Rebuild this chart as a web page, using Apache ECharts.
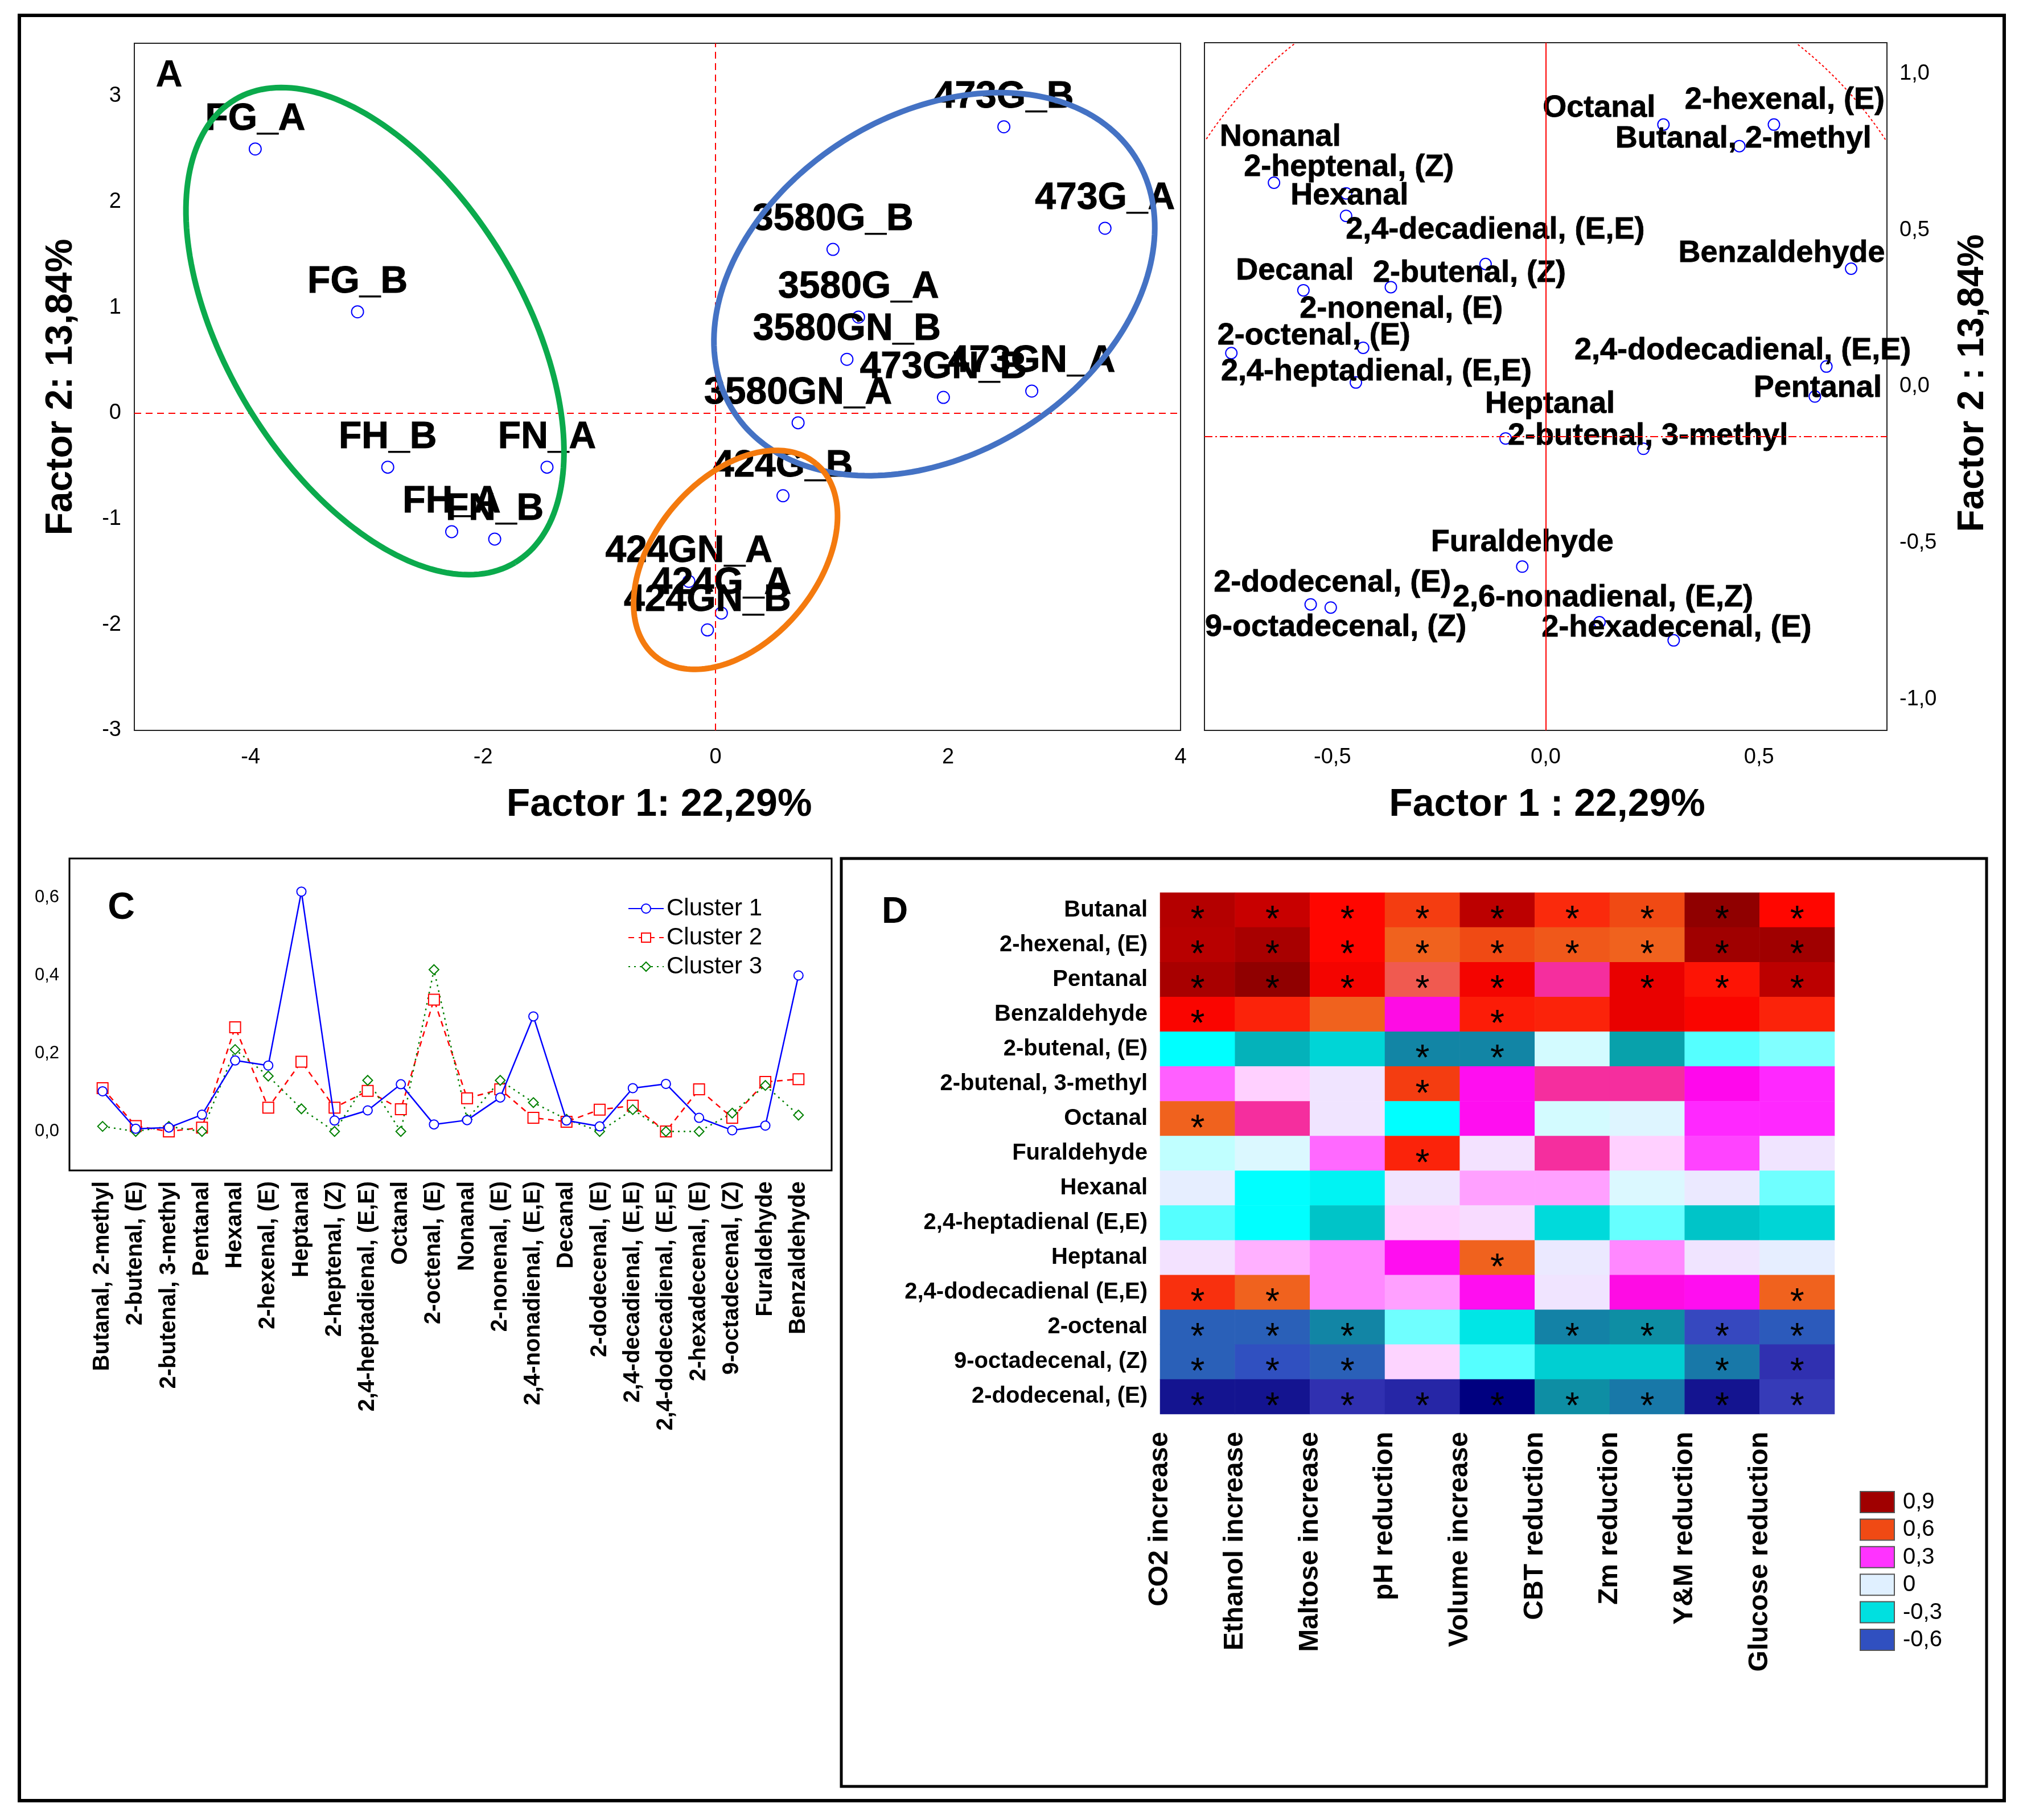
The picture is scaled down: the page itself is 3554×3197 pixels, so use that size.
<!DOCTYPE html>
<html>
<head>
<meta charset="utf-8">
<script src="https://cdn.jsdelivr.net/npm/echarts@6/dist/echarts.min.js"></script>
<style>
html,body{margin:0;padding:0;background:#fff;}
#chart{width:3554px;height:3197px;}
</style>
</head>
<body>
<div id="chart"></div>
<script>
// ---------------- Panel A: PCA scores ----------------
const samplesA = ['FG_A','FG_B','FH_B','FN_A','FH_A','FN_B','473G_B','473G_A','3580G_B','3580G_A','3580GN_B','473GN_B','473GN_A','3580GN_A','424G_B','424GN_A','424G_A','424GN_B'];
const factor1A = [-3.96,-3.08,-2.82,-1.45,-2.27,-1.90,2.48,3.35,1.01,1.23,1.13,1.96,2.72,0.71,0.58,-0.23,0.05,-0.07];
const factor2A = [2.50,0.96,-0.51,-0.51,-1.12,-1.19,2.71,1.75,1.55,0.91,0.51,0.15,0.21,-0.09,-0.78,-1.59,-1.89,-2.05];

// group ellipses (centre, two conjugate semi-axes in data units)
const ellipseCentres = [[-2.93,0.777],[1.882,1.221],[0.172,-1.387]];
const ellipseAxisU = [[1.204,-2.190],[1.722,1.213],[0.689,0.913]];
const ellipseAxisV = [[-1.093,-0.717],[0.794,-1.346],[0.543,-0.489]];
const ellipseColors = ['#0BAA4C','#4472C4','#F47A0E'];

// ---------------- Panel B: PCA loadings ----------------
const aldehydesB = ['Octanal','2-hexenal, (E)','Butanal, 2-methyl','Nonanal','2-heptenal, (Z)','Hexanal','2,4-decadienal, (E,E)','Decanal','2-butenal, (Z)','2-nonenal, (E)','2-octenal, (E)','2,4-heptadienal, (E,E)','Benzaldehyde','2,4-dodecadienal, (E,E)','Pentanal','Heptanal','2-butenal, 3-methyl','Furaldehyde','2-dodecenal, (E)','9-octadecenal, (Z)','2,6-nonadienal, (E,Z)','2-hexadecenal, (E)'];
const loading1B = [0.276,0.535,0.454,-0.637,-0.468,-0.468,-0.141,-0.568,-0.363,-0.428,-0.737,-0.445,0.716,0.658,0.631,-0.094,0.229,-0.055,-0.504,-0.551,0.126,0.300];
const loading2B = [0.838,0.838,0.769,0.652,0.618,0.546,0.392,0.308,0.318,0.124,0.107,0.013,0.377,0.064,-0.032,-0.166,-0.199,-0.576,-0.707,-0.697,-0.754,-0.812];
// label placement (pixels) for each loading label
const labelShiftB = [[-113,-29],[19,-43],[7,-13],[11,-80],[5,-46],[6,-35],[17,-60],[-15,-34],[138,-24],[67,-68],[145,-30],[36,-19],[-122,-27],[-147,-28],[5,-14],[78,-60],[8,-22],[0,-42],[3,-43],[44,40],[6,-43],[5,-22]];

// ---------------- Panel C: cluster profiles ----------------
const clusterCats = ['Butanal, 2-methyl','2-butenal, (E)','2-butenal, 3-methyl','Pentanal','Hexanal','2-hexenal, (E)','Heptanal','2-heptenal, (Z)','2,4-heptadienal, (E,E)','Octanal','2-octenal, (E)','Nonanal','2-nonenal, (E)','2,4-nonadienal, (E,E)','Decanal','2-dodecenal, (E)','2,4-decadienal, (E,E)','2,4-dodecadienal, (E,E)','2-hexadecenal, (E)','9-octadecenal, (Z)','Furaldehyde','Benzaldehyde'];
const cluster1 = [0.103,0.007,0.010,0.043,0.182,0.169,0.615,0.028,0.054,0.121,0.018,0.029,0.087,0.295,0.028,0.013,0.111,0.122,0.035,0.003,0.015,0.400];
const cluster2 = [0.111,0.014,0.000,0.010,0.267,0.061,0.179,0.061,0.104,0.057,0.338,0.085,0.108,0.035,0.025,0.056,0.066,0.000,0.108,0.035,0.127,0.134];
const cluster3 = [0.013,0.000,0.013,0.000,0.210,0.142,0.058,0.000,0.131,0.000,0.415,0.031,0.131,0.074,0.031,0.000,0.056,0.000,0.000,0.047,0.118,0.042];
const clusterNames = ['Cluster 1','Cluster 2','Cluster 3'];

// ---------------- Panel D: correlation heatmap ----------------
const heatRows = ['Butanal','2-hexenal, (E)','Pentanal','Benzaldehyde','2-butenal, (E)','2-butenal, 3-methyl','Octanal','Furaldehyde','Hexanal','2,4-heptadienal (E,E)','Heptanal','2,4-dodecadienal (E,E)','2-octenal','9-octadecenal, (Z)','2-dodecenal, (E)'];
const heatCols = ['CO2 increase','Ethanol increase','Maltose increase','pH reduction','Volume increase','CBT reduction','Zm reduction','Y&M reduction','Glucose reduction'];
const corrButanal       = [0.85,0.80,0.70,0.62,0.83,0.65,0.60,0.94,0.70];
const corrHexenal       = [0.84,0.88,0.70,0.55,0.60,0.57,0.55,0.90,0.90];
const corrPentanal      = [0.88,0.94,0.72,0.50,0.72,0.45,0.74,0.68,0.83];
const corrBenzaldehyde  = [0.71,0.66,0.55,0.36,0.67,0.66,0.74,0.71,0.66];
const corrButenalE      = [-0.25,-0.37,-0.32,-0.46,-0.46,-0.06,-0.39,-0.20,-0.15];
const corrButenalMe     = [0.24,0.10,0.04,0.62,0.34,0.45,0.45,0.35,0.30];
const corrOctanal       = [0.55,0.45,0.04,-0.25,0.34,-0.06,-0.03,0.30,0.30];
const corrFuraldehyde   = [-0.10,-0.04,0.23,0.66,0.05,0.45,0.10,0.27,0.04];
const corrHexanal       = [0.00,-0.25,-0.27,0.04,0.17,0.17,-0.04,0.02,-0.17];
const corrHeptadienal   = [-0.20,-0.25,-0.35,0.10,0.07,-0.31,-0.18,-0.35,-0.32];
const corrHeptanal      = [0.05,0.15,0.20,0.34,0.55,0.02,0.20,0.04,0.00];
const corrDodecadienal  = [0.64,0.55,0.20,0.17,0.34,0.04,0.36,0.34,0.55];
const corrOctenal       = [-0.55,-0.55,-0.46,-0.17,-0.29,-0.47,-0.43,-0.63,-0.57];
const corrOctadecenal   = [-0.55,-0.60,-0.55,0.09,-0.20,-0.33,-0.33,-0.50,-0.70];
const corrDodecenal     = [-0.80,-0.80,-0.70,-0.74,-0.90,-0.43,-0.50,-0.80,-0.67];
const corrTable = [corrButanal,corrHexenal,corrPentanal,corrBenzaldehyde,corrButenalE,corrButenalMe,corrOctanal,corrFuraldehyde,corrHexanal,corrHeptadienal,corrHeptanal,corrDodecadienal,corrOctenal,corrOctadecenal,corrDodecenal];
const signifTable = [
 [1,1,1,1,1,1,1,1,1],[1,1,1,1,1,1,1,1,1],[1,1,1,1,1,0,1,1,1],[1,0,0,0,1,0,0,0,0],
 [0,0,0,1,1,0,0,0,0],[0,0,0,1,0,0,0,0,0],[1,0,0,0,0,0,0,0,0],[0,0,0,1,0,0,0,0,0],
 [0,0,0,0,0,0,0,0,0],[0,0,0,0,0,0,0,0,0],[0,0,0,0,1,0,0,0,0],[1,1,0,0,0,0,0,0,1],
 [1,1,1,0,0,1,1,1,1],[1,1,1,0,0,0,0,1,1],[1,1,1,1,1,1,1,1,1]];
const legendTicks = ['0,9','0,6','0,3','0','-0,3','-0,6'];
const legendColors = ['#A00000','#F04A14','#FF33FF','#E0F0FF','#00E0E0','#3050C0'];
const palette = ['#000080','#0A0A88','#141490','#2424A4','#3030B0','#3A42BE','#3050C0','#2A60B8','#1878A8','#1088A4','#0A98A4','#00C4C8','#00E0E0','#00FFFF','#55FFFF','#80FFFF','#C0FFFF','#D8FAFF','#E6EEFF','#F3E2FF','#FFD0FF','#FFB0FF','#FF88FF','#FF55FF','#FF28FF','#FF08EC','#FA1CC4','#F52E9E','#F05A50','#F0621E','#F04A14','#FA2A0C','#FF0600','#E40000','#C80000','#B40000','#A00000','#8C0000'];

const fam = '"Liberation Sans", Arial, sans-serif';
const chart = echarts.init(document.getElementById('chart'), null, {renderer:'canvas'});

function commaFmt(v, step) {
  const k = Math.round(v / step);
  return (k * step).toFixed(1).replace('.', ',');
}

function ellipseItem(params, api) {
  const i = params.dataIndex;
  const c = ellipseCentres[i], u = ellipseAxisU[i], v = ellipseAxisV[i];
  const pts = [];
  for (let k = 0; k <= 200; k++) {
    const t = k / 200 * Math.PI * 2;
    pts.push(api.coord([c[0] + u[0]*Math.cos(t) + v[0]*Math.sin(t), c[1] + u[1]*Math.cos(t) + v[1]*Math.sin(t)]));
  }
  return {type:'polyline', shape:{points:pts}, style:{fill:'none', stroke:ellipseColors[i], lineWidth:10}};
}
// upper part of the correlation circle, kept to the plot rectangle
const circleB = {c:[0,0.08], rx:0.953, ry:1.293};
function circleItem(params, api) {
  const r = params.coordSys;
  const runs = [];
  let cur = [];
  for (let k = 0; k <= 400; k++) {
    const t = k / 400 * Math.PI;
    const p = api.coord([circleB.c[0] + circleB.rx*Math.cos(t), circleB.c[1] + circleB.ry*Math.sin(t)]);
    const inside = p[0] >= r.x && p[0] <= r.x + r.width && p[1] >= r.y && p[1] <= r.y + r.height;
    if (inside) cur.push(p);
    else if (cur.length) { runs.push(cur); cur = []; }
  }
  if (cur.length) runs.push(cur);
  return {type:'group', children: runs.filter(s => s.length > 1).map(s => ({type:'polyline', shape:{points:s}, style:{fill:'none', stroke:'#FF0000', lineWidth:2, lineDash:[4,4]}}))};
}

const heatData = [];
corrTable.forEach((row, r) => row.forEach((v, c) => heatData.push([c, r, v])));

const tickFont = {fontFamily:fam, fontSize:38, color:'#000'};

const graphics = [
  {type:'rect', shape:{x:34,y:27,width:3487,height:3136}, style:{fill:'none',stroke:'#000',lineWidth:6}, z:100},
  {type:'rect', shape:{x:1478,y:1508,width:2012,height:1630}, style:{fill:'none',stroke:'#000',lineWidth:5}, z:100},
  {type:'text', x:297, y:134, style:{text:'A', fontSize:66, fontWeight:'bold', fontFamily:fam, fill:'#000', textAlign:'center', textVerticalAlign:'middle'}},
  {type:'text', x:213, y:1596, style:{text:'C', fontSize:66, fontWeight:'bold', fontFamily:fam, fill:'#000', textAlign:'center', textVerticalAlign:'middle'}},
  {type:'text', x:1572, y:1603, style:{text:'D', fontSize:64, fontWeight:'bold', fontFamily:fam, fill:'#000', textAlign:'center', textVerticalAlign:'middle'}},
  {type:'text', x:1158, y:1414, style:{text:'Factor 1: 22,29%', fontSize:68, fontWeight:'bold', fontFamily:fam, fill:'#000', textAlign:'center', textVerticalAlign:'middle'}},
  {type:'text', x:2718, y:1414, style:{text:'Factor 1 : 22,29%', fontSize:68, fontWeight:'bold', fontFamily:fam, fill:'#000', textAlign:'center', textVerticalAlign:'middle'}},
  {type:'text', x:108, y:680, rotation:Math.PI/2, style:{text:'Factor 2: 13,84%', fontSize:66, fontWeight:'bold', fontFamily:fam, fill:'#000', textAlign:'center', textVerticalAlign:'middle'}},
  {type:'text', x:3466, y:673, rotation:Math.PI/2, style:{text:'Factor 2 : 13,84%', fontSize:64, fontWeight:'bold', fontFamily:fam, fill:'#000', textAlign:'center', textVerticalAlign:'middle'}}
];
legendTicks.forEach((t, i) => {
  const y = 2620 + i * 48.4;
  graphics.push({type:'rect', shape:{x:3268,y:y,width:60,height:37}, style:{fill:legendColors[i], stroke:'#555', lineWidth:2}});
  graphics.push({type:'text', x:3343, y:y+19, style:{text:t, fontSize:40, fontFamily:fam, fill:'#000', textAlign:'left', textVerticalAlign:'middle'}});
});

const option = {
  backgroundColor:'#fff',
  animation:false,
  textStyle:{fontFamily:fam},
  grid:[
    {left:236, top:76, width:1838, height:1207, show:true, borderColor:'#222', borderWidth:2, backgroundColor:'transparent'},
    {left:2116, top:75, width:1199, height:1208, show:true, borderColor:'#222', borderWidth:2, backgroundColor:'transparent'},
    {left:122, top:1508, width:1339, height:548, show:true, borderColor:'#000', borderWidth:3, backgroundColor:'transparent'},
    {left:2038, top:1568, width:1185, height:916, show:false}
  ],
  xAxis:[
    {type:'value', gridIndex:0, min:-5, max:4, interval:1, axisLine:{show:false}, axisTick:{show:false}, splitLine:{show:false},
     axisLabel:Object.assign({margin:29, formatter:v => (Number.isInteger(v) && v % 2 === 0) ? String(v) : ''}, tickFont)},
    {type:'value', gridIndex:1, min:-0.8, max:0.8, interval:0.1, axisLine:{show:false}, axisTick:{show:false}, splitLine:{show:false},
     axisLabel:Object.assign({margin:29, formatter:v => (Math.round(v*10) % 5 === 0) ? commaFmt(v, 0.5) : ''}, tickFont)},
    {type:'value', gridIndex:2, min:0, max:23, interval:1, axisLine:{show:false}, axisTick:{show:false}, splitLine:{show:false},
     axisLabel:{margin:19, rotate:90, fontSize:40, fontWeight:'bold', fontFamily:fam, color:'#000', formatter:v => clusterCats[Math.round(v)-1] || ''}},
    {type:'category', gridIndex:3, data:heatCols, position:'bottom', axisLine:{show:false}, axisTick:{show:false}, axisLabel:{show:false}, splitLine:{show:false}},
    {type:'value', gridIndex:3, min:0, max:9, interval:1, position:'bottom', offset:0, axisLine:{show:false}, axisTick:{show:false}, splitLine:{show:false},
     axisLabel:{margin:31, rotate:90, fontSize:48, fontWeight:'bold', fontFamily:fam, color:'#000', formatter:v => heatCols[Math.round(v)] || ''}}
  ],
  yAxis:[
    {type:'value', gridIndex:0, min:-3, max:3.5, interval:1, axisLine:{show:false}, axisTick:{show:false}, splitLine:{show:false},
     axisLabel:Object.assign({margin:23, formatter:v => Number.isInteger(v) ? String(v) : ''}, tickFont)},
    {type:'value', gridIndex:1, position:'right', min:-1.1, max:1.1, interval:0.1, axisLine:{show:false}, axisTick:{show:false}, splitLine:{show:false},
     axisLabel:Object.assign({margin:22, formatter:v => (Math.round(v*10) % 5 === 0) ? commaFmt(v, 0.5) : ''}, tickFont)},
    {type:'value', gridIndex:2, min:-0.1, max:0.7, interval:0.1, axisLine:{show:false}, axisTick:{show:false}, splitLine:{show:false},
     axisLabel:{margin:18, fontSize:31, fontFamily:fam, color:'#000', formatter:v => { const k = Math.round(v*10); return (k >= 0 && k % 2 === 0) ? commaFmt(v, 0.2) : ''; }}},
    {type:'category', gridIndex:3, data:heatRows, inverse:true, axisLine:{show:false}, axisTick:{show:false}, splitLine:{show:false},
     axisLabel:{margin:22, fontSize:40, fontWeight:'bold', fontFamily:fam, color:'#000'}}
  ],
  legend:{
    show:true, orient:'vertical', left:1098, top:1570, itemWidth:62, itemHeight:20, itemGap:9,
    data:clusterNames, textStyle:{fontSize:42, fontFamily:fam, color:'#000', lineHeight:40}
  },
  visualMap:{type:'continuous', show:false, seriesIndex:7, min:-0.9, max:0.95, inRange:{color:palette}},
  series:[
    {type:'scatter', xAxisIndex:0, yAxisIndex:0, z:2,
     symbol:'circle', symbolSize:21, itemStyle:{color:'rgba(0,0,0,0)', borderColor:'#0000FF', borderWidth:2, opacity:1},
     label:{show:true, position:'inside', offset:[0,-52], formatter:p => p.name, fontSize:66, fontWeight:'bold', fontFamily:fam, color:'#000', textBorderColor:'#000', textBorderWidth:1},
     data:samplesA.map((n,i) => ({name:n, value:[factor1A[i], factor2A[i]]})),
     markLine:{silent:true, symbol:'none', label:{show:false}, lineStyle:{color:'#FF0000', width:2, type:[12,8]}, data:[{xAxis:0},{yAxis:0}]}
    },
    {type:'custom', xAxisIndex:0, yAxisIndex:0, z:5, renderItem:ellipseItem, data:ellipseCentres, silent:true},
    {type:'scatter', xAxisIndex:1, yAxisIndex:1, z:2,
     symbol:'circle', symbolSize:20, itemStyle:{color:'rgba(0,0,0,0)', borderColor:'#0000FF', borderWidth:2, opacity:1},
     label:{show:true, position:'inside', formatter:p => p.name, fontSize:54, fontWeight:'bold', fontFamily:fam, color:'#000', textBorderColor:'#000', textBorderWidth:0.8},
     data:aldehydesB.map((n,i) => ({name:n, value:[loading1B[i], loading2B[i]], label:{offset:labelShiftB[i]}})),
     markLine:{silent:true, symbol:'none', label:{show:false}, data:[
       {xAxis:0, lineStyle:{color:'#FF0000', width:2, type:'solid'}},
       {yAxis:-0.16, lineStyle:{color:'#FF0000', width:2, type:[14,5,3,5]}}]}
    },
    {type:'custom', xAxisIndex:1, yAxisIndex:1, z:1, renderItem:circleItem, data:[circleB.c], silent:true},
    {type:'line', name:'Cluster 1', xAxisIndex:2, yAxisIndex:2, z:4, symbol:'emptyCircle', symbolSize:16,
     lineStyle:{color:'#0000FF', width:2.5, type:'solid'}, itemStyle:{color:'#0000FF', borderWidth:2.5},
     data:cluster1.map((v,i) => [i+1, v])},
    {type:'line', name:'Cluster 2', xAxisIndex:2, yAxisIndex:2, z:3, symbol:'emptyRect', symbolSize:19,
     lineStyle:{color:'#FF0000', width:2.5, type:[10,8]}, itemStyle:{color:'#FF0000', borderWidth:2.5},
     data:cluster2.map((v,i) => [i+1, v])},
    {type:'line', name:'Cluster 3', xAxisIndex:2, yAxisIndex:2, z:3, symbol:'emptyDiamond', symbolSize:17,
     lineStyle:{color:'#008000', width:2.5, type:[3,7]}, itemStyle:{color:'#008000', borderWidth:2},
     data:cluster3.map((v,i) => [i+1, v])},
    {type:'heatmap', xAxisIndex:3, yAxisIndex:3, data:heatData, itemStyle:{borderWidth:0},
     emphasis:{disabled:true},
     label:{show:true, fontSize:64, fontFamily:fam, color:'#000', offset:[0,20], textBorderWidth:0,
            formatter:p => signifTable[p.value[1]][p.value[0]] ? '*' : ''}}
  ],
  graphic:graphics
};
chart.setOption(option);
</script>
</body>
</html>
